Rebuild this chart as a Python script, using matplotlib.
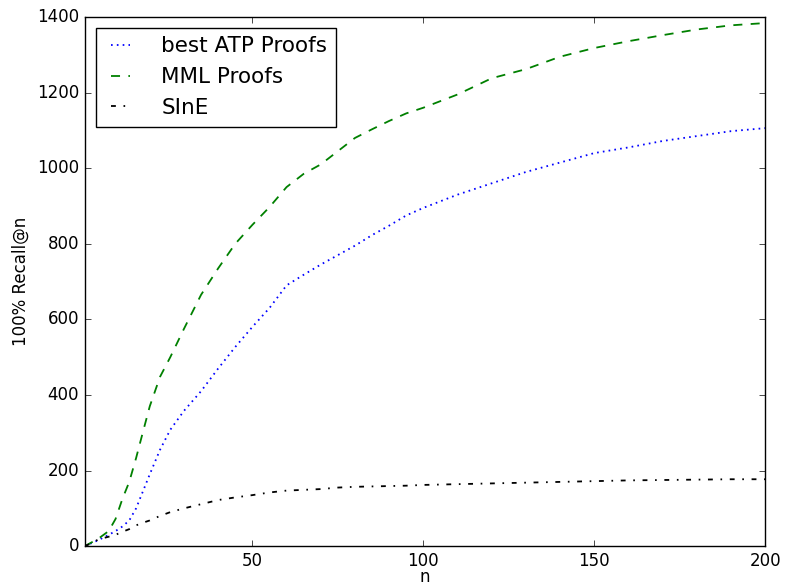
import matplotlib
matplotlib.use("Agg")
import matplotlib.pyplot as plt

# Number of retrieved premises n
n = [1, 3, 5, 8, 10, 12, 14, 16, 18, 20, 23, 26, 30, 35, 40, 45, 50, 55, 60,
     65, 70, 75, 80, 85, 90, 95, 100, 110, 120, 130, 140, 150, 160, 170, 180,
     190, 200]

# Problems with 100% recall at n, per premise source
best_atp = [0, 8, 16, 30, 40, 52, 68, 100, 145, 190, 255, 308, 358, 410, 470,
            527, 580, 630, 690, 718, 745, 770, 795, 823, 848, 875, 895, 930,
            960, 990, 1015, 1040, 1055, 1072, 1085, 1098, 1106]
mml = [0, 10, 20, 40, 72, 125, 170, 233, 302, 370, 448, 500, 575, 665, 735,
       800, 850, 897, 950, 985, 1010, 1045, 1080, 1103, 1125, 1145, 1160, 1195,
       1238, 1262, 1295, 1318, 1336, 1352, 1367, 1378, 1384]
sine = [0, 8, 18, 25, 30, 38, 45, 55, 62, 68, 80, 90, 100, 111, 122, 129, 135,
        142, 147, 149, 151, 155, 157, 158, 159, 160, 162, 164, 166, 168, 170,
        172, 174, 175, 176, 177, 177]

plt.style.use("classic")
fig = plt.figure(figsize=(7.85, 5.86), dpi=100, facecolor="white")
ax = fig.add_subplot(111)
fig.subplots_adjust(left=0.108, right=0.975, bottom=0.068, top=0.971)

lw = 1.3
ax.plot(n, best_atp, color="b", linestyle=(0, (1.2, 3.0)), lw=lw,
        label="best ATP Proofs")
ax.plot(n, mml, color="g", linestyle=(0, (6.5, 6.0)), lw=lw,
        label="MML Proofs")
ax.plot(n, sine, color="k", linestyle=(0, (3.5, 5.5, 1.2, 5.5)), lw=lw,
        label="SInE")

ax.set_xlim(1, 200)
ax.set_ylim(0, 1400)
ax.set_xticks([50, 100, 150, 200])
ax.set_yticks(range(0, 1401, 200))
ax.set_xlabel("n", labelpad=-1)
ax.set_ylabel("100% Recall@n")
ax.legend(loc="upper left", fontsize=15.5, handlelength=1.5,
          handletextpad=1.15, borderaxespad=0.5)

fig.savefig("out.png", dpi=100, facecolor="white")
